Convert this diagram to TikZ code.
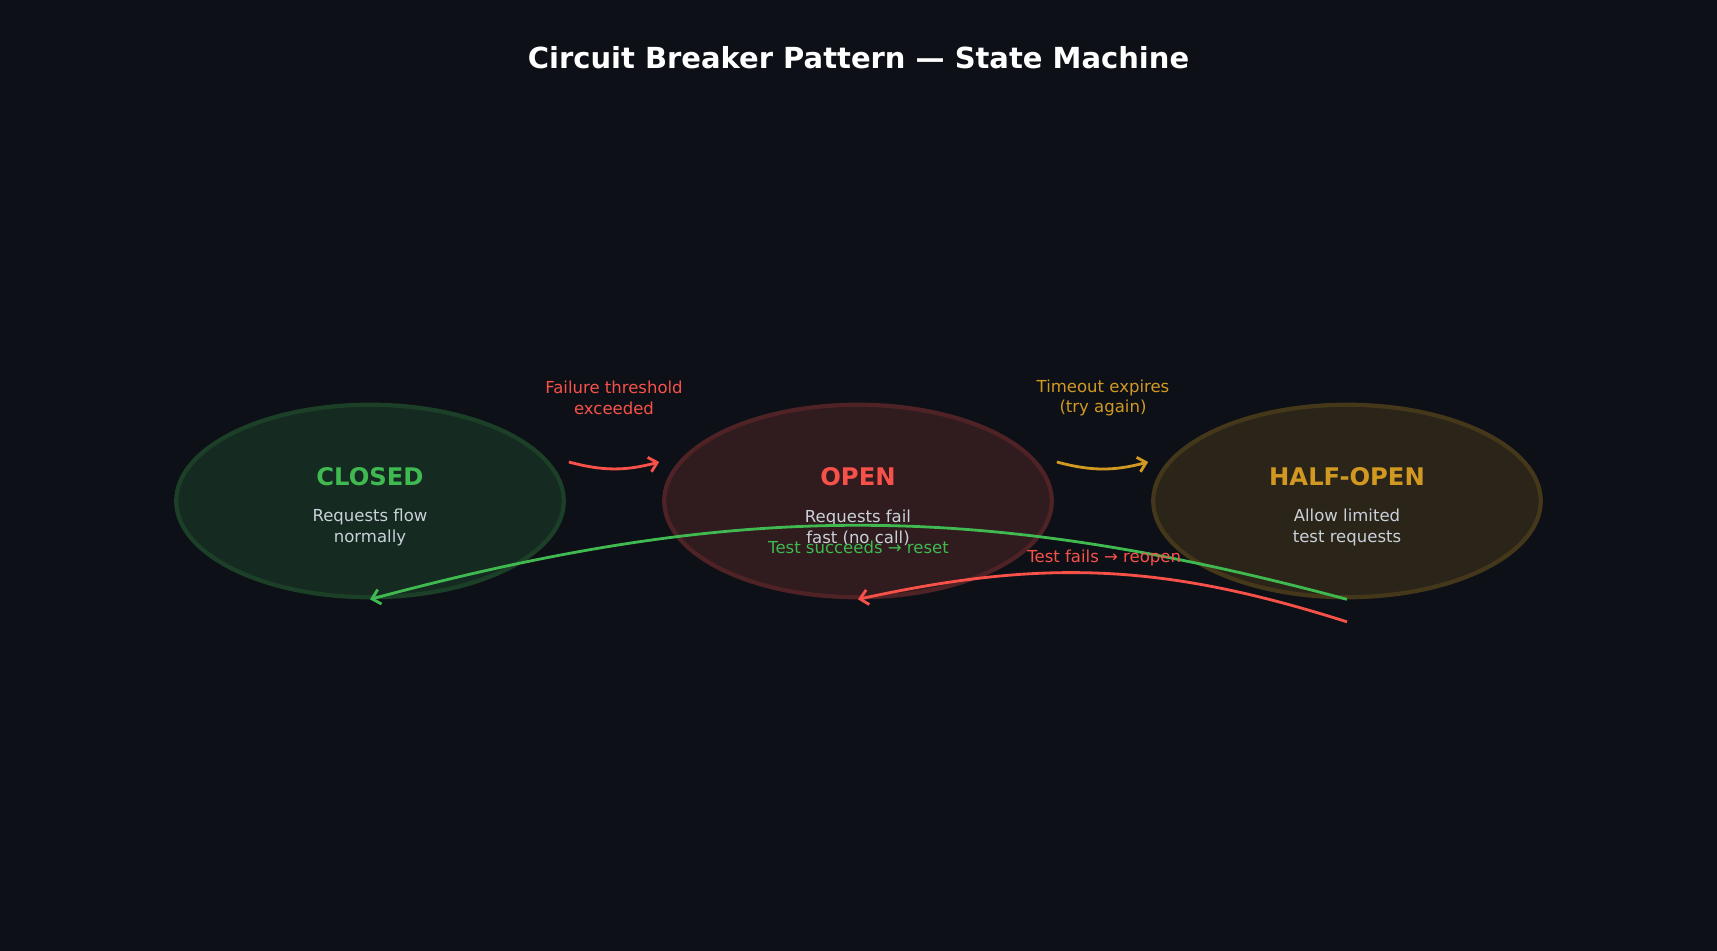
\documentclass[tikz,border=0pt]{standalone}
\usepackage{fontspec}
\setmainfont{DejaVu Sans}
\usetikzlibrary{arrows.meta,positioning,calc,shapes.geometric}
\definecolor{cbbg}{HTML}{0D1117}
\definecolor{cbgreen}{HTML}{3FB950}
\definecolor{cbred}{HTML}{F85149}
\definecolor{cbgold}{HTML}{D29922}
\definecolor{cbtext}{HTML}{C9D1D9}

\begin{document}
\begin{tikzpicture}[font=\fontsize{9.4}{11.8}\selectfont,>={Straight Barb[length=4.5pt,width=8.5pt]},line width=1.6pt]
\fill[cbbg] (0,0) rectangle (34.34,19.02);
\useasboundingbox (0,0) rectangle (34.34,19.02);
\node[white,font=\fontsize{16.5}{20}\selectfont\bfseries] (title) at (17.17,17.86) {Circuit Breaker Pattern — State Machine};
\foreach \nm/\xx/\col/\lbl/\desc in {closed/7.4/cbgreen/CLOSED/{Requests flow\\normally},open/17.16/cbred/OPEN/{Requests fail\\fast (no call)},half/26.94/cbgold/HALF-OPEN/{Allow limited\\test requests}}{
  \node[ellipse,minimum width=7.75cm,minimum height=3.85cm,fill=\col!15!cbbg,draw=\col!28!cbbg,line width=2.4pt] (\nm) at (\xx,9) {};
  \node[\col,font=\fontsize{13.8}{16}\selectfont\bfseries] (\nm-name) at ([yshift=.48cm]\nm.center) {\lbl};
  \node[cbtext,align=center] (\nm-desc) at ([yshift=-.53cm]\nm.center) {\desc};
}
% forward transitions
\node[cbred,align=center] (trip-lbl) at (12.28,11.06) {Failure threshold\\exceeded};
\node[cbgold,align=center] (timeout-lbl) at (22.06,11.06) {Timeout expires\\(try again)};
\coordinate (trip-a) at ($(closed.east)+(.06,.78)$);
\coordinate (trip-b) at ($(open.west)+(-.06,.78)$);
\coordinate (timeout-a) at ($(open.east)+(.06,.78)$);
\coordinate (timeout-b) at ($(half.west)+(-.06,.78)$);
\draw[->,cbred] (trip-a) to[bend right=15] (trip-b);
\draw[->,cbgold] (timeout-a) to[bend right=15] (timeout-b);
% back transitions
\coordinate (reopen-a) at ($(half.south)+(0,-.45)$);
\draw[->,cbgreen] (half.south) to[bend right=15] node[midway,below=4.5pt] {Test succeeds → reset} (closed.south);
\draw[->,cbred] (reopen-a) to[bend right=15] node[midway,above] {Test fails → reopen} (open.south);
\end{tikzpicture}
\end{document}
